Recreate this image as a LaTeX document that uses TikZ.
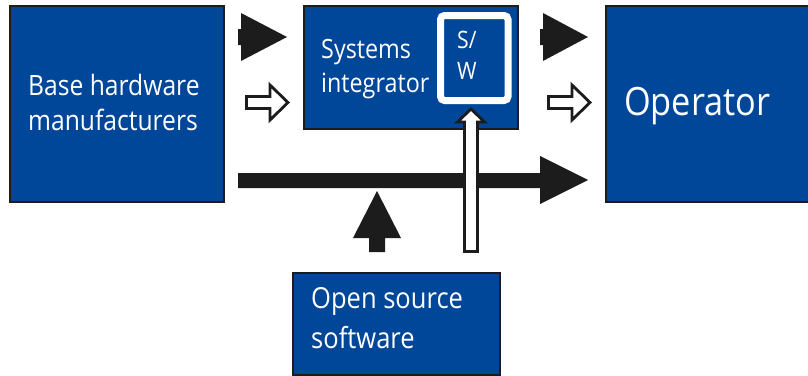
\documentclass[tikz,border=0pt]{standalone}
\usepackage{fontspec}
\newfontfamily\dfont[FakeStretch=0.88]{Open Sans}
\definecolor{boxblue}{HTML}{00479A}
\definecolor{ink}{HTML}{1C1C1C}
\begin{document}
\begin{tikzpicture}[x=1pt,y=-1pt,
  blk/.style={draw=ink, line width=1.5pt, fill=boxblue, inner sep=0pt, anchor=north west},
  txt/.style={text=white, inner sep=0pt, anchor=base west},
  solidarrow/.style={fill=ink, draw=none},
  hollowarrow/.style={fill=white, draw=ink, line width=2.8pt, line join=miter}]
\useasboundingbox (0,0) rectangle (808,375);
% boxes
\node[blk, minimum width=214pt, minimum height=196pt] (bhm) at (9,5) {};
\node[blk, minimum width=214pt, minimum height=123pt] (si) at (303,5) {};
\node[blk, minimum width=210pt, minimum height=196pt] (op) at (605,5) {};
\node[blk, minimum width=207pt, minimum height=102pt] (oss) at (292,272) {};
\node[draw=white, line width=7pt, fill=boxblue, rounded corners=4pt,
      minimum width=67.5pt, minimum height=85pt, inner sep=0pt] (sw) at (474.25,58) {};
% texts
\node[txt, font=\dfont\fontsize{28}{28}\selectfont] (bhm1) at (28,95) {Base hardware};
\node[txt, font=\dfont\fontsize{28}{28}\selectfont] (bhm2) at (28,130) {manufacturers};
\node[txt, font=\dfont\fontsize{26.5}{26.5}\selectfont] (si1) at (321,58) {Systems};
\node[txt, font=\dfont\fontsize{26.5}{26.5}\selectfont] (si2) at (321,92) {integrator};
\node[txt, font=\dfont\fontsize{24}{24}\selectfont] (sw1) at (457,48) {S/};
\node[txt, font=\dfont\fontsize{24}{24}\selectfont] (sw2) at (457,79) {W};
\node[txt, font=\dfont\fontsize{39}{39}\selectfont] (op1) at (624,115) {Operator};
\node[txt, font=\dfont\fontsize{29}{29}\selectfont] (oss1) at (311,308) {Open source};
\node[txt, font=\dfont\fontsize{29}{29}\selectfont] (oss2) at (311,348) {software};
% arrows
\fill[solidarrow] (238,29)--(241,29)--(241,13)--(287,37)--(241,61)--(241,45)--(238,45)--cycle;
\fill[solidarrow] (540,29)--(543,29)--(543,13)--(588,37)--(543,61)--(543,45)--(540,45)--cycle;
\draw[hollowarrow] (246.5,96.5)--(270,96.5)--(270,85)--(288,102.5)--(270,120)--(270,108.5)--(246.5,108.5)--cycle;
\draw[hollowarrow] (548.5,96.5)--(572,96.5)--(572,85)--(590,102.5)--(572,120)--(572,108.5)--(548.5,108.5)--cycle;
\fill[solidarrow] (238,173)--(540,173)--(540,156)--(588,180)--(540,204)--(540,188)--(238,188)--cycle;
\draw[hollowarrow] (464.5,251.5)--(464.5,122)--(457.5,122)--(471,109)--(484.5,122)--(477.5,122)--(477.5,251.5)--cycle;
\fill[solidarrow] (369,252)--(369,238)--(353,238)--(377,191)--(401,238)--(385,238)--(385,252)--cycle;
\end{tikzpicture}
\end{document}
